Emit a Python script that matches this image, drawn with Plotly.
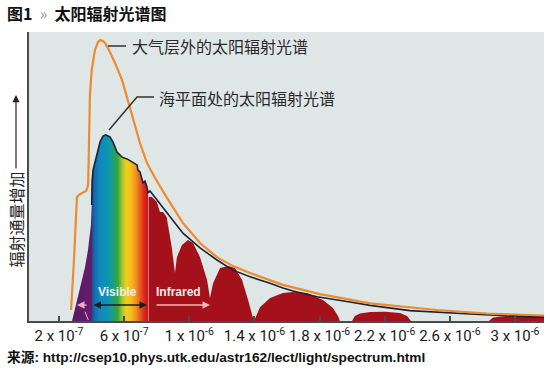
import plotly.graph_objects as go

# ---------------- data (wavelength in micrometres, flux in arbitrary units) -------------
# solar spectrum outside the atmosphere (orange curve)
toa_wl = [0.274, 0.292, 0.310, 0.329, 0.366, 0.378, 0.381, 0.384, 0.387, 0.390,
          0.401, 0.421, 0.439, 0.452, 0.470, 0.483, 0.513, 0.544, 0.587, 0.618,
          0.654, 0.697, 0.740, 0.790, 0.863, 0.961, 1.066, 1.170, 1.268, 1.373,
          1.575, 1.802, 1.987, 2.110, 2.521, 2.828, 3.178]
toa_val = [3.8, 21.1, 42.9, 43.9, 45.0, 46.7, 52.2, 62.6, 73.0, 78.2,
           86.9, 93.8, 96.5, 97.2, 96.9, 96.2, 93.1, 89.3, 83.4, 77.5,
           70.2, 61.6, 54.7, 49.5, 42.6, 33.9, 27.0, 22.1, 19.0, 16.6,
           12.5, 9.3, 7.4, 6.1, 3.8, 2.6, 1.9]

# sea-level spectrum: ultraviolet + visible part (rainbow fill)
vis_wl = [0.280, 0.304, 0.329, 0.360, 0.378, 0.396, 0.401, 0.403, 0.409, 0.433,
          0.452, 0.470, 0.487, 0.513, 0.532, 0.556, 0.587, 0.618, 0.654, 0.679,
          0.685, 0.697, 0.716, 0.728, 0.740, 0.747]
vis_val = [0, 5.5, 11.4, 18.7, 24.6, 33.2, 40.1, 48.1, 52.2, 58.1,
           61.9, 64.0, 64.4, 63.7, 61.9, 58.5, 56.7, 56.1, 55.0, 54.0,
           52.2, 51.6, 47.8, 48.4, 46.4, 44.3]

# sea-level spectrum: infrared part (dark red fill, absorption bands)
ir_wl = [0.750, 0.769, 0.800, 0.820, 0.839, 0.861, 0.892, 0.912, 0.924, 0.955,
         0.992, 1.023, 1.066, 1.109, 1.127, 1.146, 1.189, 1.238, 1.281, 1.324,
         1.361, 1.391, 1.403, 1.434, 1.496, 1.575, 1.637, 1.723, 1.821, 1.882,
         1.913, 1.925, 1.999, 2.017, 2.048, 2.110, 2.202, 2.294, 2.337, 2.361,
         2.840, 2.865, 3.000, 3.178]
ir_val = [42.9, 43.0, 41.3, 37.7, 37.7, 36.0, 25.6, 16.6, 22.1, 26.3,
          28.0, 27.0, 22.1, 14.2, 8.0, 13.1, 18.3, 19.0, 18.3, 14.2,
          7.3, 1.0, 0.7, 4.8, 8.0, 9.7, 10.0, 9.7, 7.3, 4.5,
          1.7, 0, 0, 1.7, 2.6, 3.1, 3.2, 2.8, 1.7, 0,
          0, 1.2, 2.1, 1.7]

# smooth envelope (black line) beyond the visible band
env_wl = [0.759, 0.863, 0.961, 1.066, 1.170, 1.268, 1.373, 1.496, 1.575, 1.637,
          1.784, 1.987, 2.110, 2.355, 2.724, 3.178]
env_val = [45.0, 37.4, 30.4, 25.3, 21.1, 17.6, 15.3, 13.1, 11.4, 10.4,
           8.4, 6.6, 5.4, 3.6, 2.4, 1.2]

tick_vals = [0.2, 0.6, 1.0, 1.4, 1.8, 2.2, 2.6, 3.0]
tick_text = ["2 x 10<sup>-7</sup>", "6 x 10<sup>-7</sup>", "1 x 10<sup>-6</sup>",
             "1.4 x 10<sup>-6</sup>", "1.8 x 10<sup>-6</sup>", "2.2 x 10<sup>-6</sup>",
             "2.6 x 10<sup>-6</sup>", "3 x 10<sup>-6</sup>"]

# ---------------- layout helpers ----------------
W, H = 552, 371
ML, MR, MT, MB = 29, 8, 32, 50
PW, PH = W - ML - MR, H - MT - MB


def px(x):
    return (x - ML) / PW


def py(y):
    return (H - MB - y) / PH


CJK = "Noto Sans CJK SC, sans-serif"
ORANGE = "#ef8a2e"
DARK = "#1c2333"
IRRED = "#a4111b"

spectrum_scale = [
    [0.0, "#5a1a64"], [0.258, "#641c6c"], [0.264, "#1a4f90"], [0.302, "#1270b0"],
    [0.368, "#1388c0"], [0.445, "#0a92b4"], [0.499, "#139aa0"], [0.550, "#1fa070"],
    [0.604, "#3aa540"], [0.657, "#9cc530"], [0.709, "#ecd21e"], [0.775, "#f8bc1c"],
    [0.841, "#f29020"], [0.906, "#e65020"], [0.959, "#d82018"], [1.0, "#c8141c"],
]

fig = go.Figure()

fig.add_trace(go.Scatter(
    x=vis_wl, y=vis_val, mode="lines", fill="tozeroy",
    line=dict(width=0, color="rgba(0,0,0,0)"),
    fillgradient=dict(type="horizontal", colorscale=spectrum_scale,
                      start=vis_wl[0], stop=vis_wl[-1]),
    hoverinfo="skip"))

fig.add_trace(go.Scatter(
    x=ir_wl, y=ir_val, mode="lines", fill="tozeroy", fillcolor=IRRED,
    line=dict(width=0, color=IRRED), hoverinfo="skip"))

fig.add_trace(go.Scatter(
    x=vis_wl[6:] + env_wl, y=vis_val[6:] + env_val, mode="lines",
    line=dict(width=1.6, color=DARK), hoverinfo="skip"))

fig.add_trace(go.Scatter(
    x=toa_wl, y=toa_val, mode="lines",
    line=dict(width=2.2, color=ORANGE), hoverinfo="skip"))

annotations = [
    dict(x=px(5), y=py(13), xref="paper", yref="paper", xanchor="left", yanchor="middle",
         showarrow=False,
         text="<b>图1</b>  <span style='color:#a0a0a0'>»</span>  <b>太阳辐射光谱图</b>",
         font=dict(family=CJK, size=16, color="#111")),
    dict(x=px(5), y=py(357), xref="paper", yref="paper", xanchor="left", yanchor="middle",
         showarrow=False,
         text="<b>来源: http://csep10.phys.utk.edu/astr162/lect/light/spectrum.html</b>",
         font=dict(family="Liberation Sans, " + CJK, size=13.7, color="#111")),
    dict(x=px(15.5), y=py(220), xref="paper", yref="paper", xanchor="center", yanchor="middle",
         showarrow=False, textangle=-90, text="辐射通量增加",
         font=dict(family=CJK, size=16, color="#222")),
    dict(x=px(16), y=py(95), xref="paper", yref="paper", showarrow=True, text="",
         ax=0, ay=75, arrowhead=2, arrowsize=1.2, arrowwidth=1.2, arrowcolor="#222",
         standoff=0),
    dict(x=px(130), y=py(46), xref="paper", yref="paper", xanchor="left", yanchor="middle",
         showarrow=False, text="大气层外的太阳辐射光谱",
         font=dict(family=CJK, size=16, color="#2a2a2a")),
    dict(x=px(156.5), y=py(98), xref="paper", yref="paper", xanchor="left", yanchor="middle",
         showarrow=False, text="海平面处的太阳辐射光谱",
         font=dict(family=CJK, size=16, color="#2a2a2a")),
    dict(x=px(117.5), y=py(291.5), xref="paper", yref="paper", xanchor="center", yanchor="middle",
         showarrow=False, text="<b>Visible</b>",
         font=dict(family="Liberation Sans", size=12, color="#f3ecf2")),
    dict(x=px(178), y=py(291.5), xref="paper", yref="paper", xanchor="center", yanchor="middle",
         showarrow=False, text="<b>Infrared</b>",
         font=dict(family="Liberation Sans", size=12, color="#f6eaea")),
    dict(x=px(77), y=py(305), xref="paper", yref="paper", showarrow=True, text="",
         ax=11, ay=0, arrowhead=2, arrowsize=1, arrowwidth=1.5, arrowcolor="#f4a6c8", standoff=0),
    dict(x=px(147), y=py(305), xref="paper", yref="paper", showarrow=True, text="",
         ax=-55, ay=0, arrowhead=2, arrowsize=1, arrowwidth=1.5, arrowcolor="#1c1c2c",
         arrowside="end+start", standoff=0, startstandoff=0),
    dict(x=px(210), y=py(305), xref="paper", yref="paper", showarrow=True, text="",
         ax=-55, ay=0, arrowhead=2, arrowsize=1, arrowwidth=1.5, arrowcolor="#f6b4b4", standoff=0),
]

shapes = [
    dict(type="line", xref="paper", yref="paper", x0=px(108), x1=px(126), y0=py(46), y1=py(46),
         line=dict(color="#333", width=1.5)),
    dict(type="path", xref="paper", yref="paper",
         path=f"M {px(109)} {py(130)} L {px(137)} {py(97)} L {px(154)} {py(97)}",
         line=dict(color="#333", width=1.5)),
    dict(type="line", xref="paper", yref="paper", x0=px(85), x1=px(88.3), y0=py(311.7), y1=py(320),
         line=dict(color="#e8b8d0", width=1)),
]

fig.update_layout(
    width=W, height=H, margin=dict(l=ML, r=MR, t=MT, b=MB, autoexpand=False),
    paper_bgcolor="white", plot_bgcolor="#dfe6e6", showlegend=False,
    annotations=annotations, shapes=shapes,
    xaxis=dict(range=[0.0158, 3.178], showgrid=False, zeroline=False, automargin=False,
               showline=True, linecolor="#4a4a4a", linewidth=2,
               ticks="inside", ticklen=5, tickwidth=1.5, tickcolor="#4a4a4a",
               tickvals=tick_vals, ticktext=tick_text, tickangle=0,
               tickfont=dict(family="Roboto", size=15, color="#1a1a1a")),
    yaxis=dict(range=[0, 100], showgrid=False, zeroline=False, showticklabels=False,
               automargin=False,
               showline=True, linecolor="#4a4a4a", linewidth=2, ticks=""),
)

fig.write_html("out.html", config={"displayModeBar": False},
               post_script="document.body.style.margin='0';document.body.style.padding='0';"
                           "document.documentElement.style.overflow='hidden';")
